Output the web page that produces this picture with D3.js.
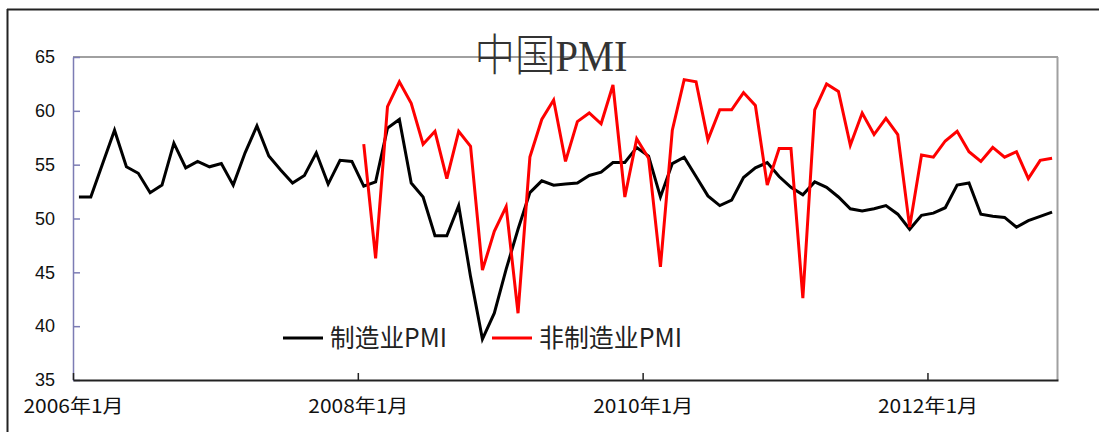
<!DOCTYPE html>
<html>
<head>
<meta charset="utf-8">
<script src="https://cdn.jsdelivr.net/npm/d3@7"></script>
<style>
  html,body{margin:0;padding:0;background:#fff;}
  svg{display:block;}
</style>
</head>
<body>
<div id="chart"></div>
<script>
// months 2006-01 .. 2012-11
const startYear = 2006, nMonths = 83;
const tickIdx = [0, 24, 48, 72];
const tickLabels = ['2006年1月', '2008年1月', '2010年1月', '2012年1月'];
const yTicks = [35, 40, 45, 50, 55, 60, 65];

// 制造业PMI 2006-01 .. 2012-11
const mfg = [
  52.0, 52.0, 55.1, 58.2, 54.8, 54.2, 52.4, 53.1, 57.0, 54.7, 55.3, 54.8,
  55.1, 53.1, 56.1, 58.6, 55.8, 54.5, 53.3, 54.0, 56.1, 53.2, 55.4, 55.3,
  53.0, 53.4, 58.4, 59.2, 53.3, 52.0, 48.4, 48.4, 51.2, 44.6, 38.8, 41.2,
  45.3, 49.0, 52.4, 53.5, 53.1, 53.2, 53.3, 54.0, 54.3, 55.2, 55.2, 56.6,
  55.8, 52.0, 55.1, 55.7, 53.9, 52.1, 51.2, 51.7, 53.8, 54.7, 55.2, 53.9,
  52.9, 52.2, 53.4, 52.9, 52.0, 50.9, 50.7, 50.9, 51.2, 50.4, 49.0, 50.3,
  50.5, 51.0, 53.1, 53.3, 50.4, 50.2, 50.1, 49.2, 49.8, 50.2, 50.6
];
// 非制造业PMI 2008-01 .. 2012-11
const nonMfgStart = 24;
const nonMfg = [
  56.9, 46.3, 60.4, 62.7, 60.7, 56.9, 58.1, 53.7, 58.1, 56.7, 45.2, 48.8,
  51.1, 41.2, 55.7, 59.2, 61.0, 55.3, 59.0, 59.8, 58.8, 62.4, 52.0, 57.4,
  55.6, 45.5, 58.2, 62.9, 62.7, 57.3, 60.1, 60.1, 61.7, 60.5, 53.1, 56.5,
  56.5, 42.6, 60.1, 62.5, 61.8, 56.8, 59.8, 57.8, 59.3, 57.8, 49.2, 55.9,
  55.7, 57.2, 58.1, 56.2, 55.3, 56.6, 55.7, 56.2, 53.7, 55.4, 55.6
];
const series = [
  {name: '制造业PMI', color: '#000000', offset: 0, values: mfg},
  {name: '非制造业PMI', color: '#ff0000', offset: nonMfgStart, values: nonMfg}
];

const W = 1099, H = 432;
const m = {t: 57, r: 41, b: 52, l: 73};
const svg = d3.select('#chart').append('svg').attr('width', W).attr('height', H);

// outer frame (top + left only visible)
svg.append('line').attr('x1', 7).attr('x2', W).attr('y1', 9.5).attr('y2', 9.5).attr('stroke', '#222').attr('stroke-width', 2);
svg.append('line').attr('x1', 7.5).attr('x2', 7.5).attr('y1', 9).attr('y2', H).attr('stroke', '#222').attr('stroke-width', 2);

const x = d3.scaleLinear().domain([0, nMonths]).range([m.l, W - m.r]);
const y = d3.scaleLinear().domain([35, 65]).range([H - m.b, m.t]);
const cx = i => x(i + 0.5);

// plot frame top / right
svg.append('line').attr('x1', m.l).attr('x2', W - m.r).attr('y1', m.t).attr('y2', m.t).attr('stroke', '#a0a0a0').attr('stroke-width', 2);
svg.append('line').attr('x1', W - m.r - 0.5).attr('x2', W - m.r - 0.5).attr('y1', m.t).attr('y2', H - m.b).attr('stroke', '#a0a0a0').attr('stroke-width', 2);

// y axis
const ya = svg.append('g').attr('transform', `translate(${m.l},0)`)
  .call(d3.axisLeft(y).tickValues(yTicks).tickSizeInner(-7).tickSizeOuter(0).tickPadding(18).tickFormat(d3.format('d')));
ya.select('.domain').attr('stroke', '#7c7cb4').attr('stroke-width', 1.5);
ya.selectAll('.tick line').attr('stroke', '#7c7cb4').attr('stroke-width', 1.5);
ya.selectAll('.tick text').attr('font-family', '"Liberation Sans", Arial, sans-serif').attr('font-size', 18).attr('fill', '#111').attr('dy', '0.32em');

// x axis
const xa = svg.append('g').attr('transform', `translate(0,${H - m.b})`)
  .call(d3.axisBottom(x).tickValues(tickIdx).tickSizeInner(-7).tickSizeOuter(0).tickFormat((d, i) => tickLabels[i]));
xa.select('.domain').attr('stroke', '#222').attr('stroke-width', 2);
xa.selectAll('.tick line').attr('stroke', '#222').attr('stroke-width', 1.5);
xa.selectAll('.tick text').attr('font-family', '"Noto Sans CJK SC", sans-serif').attr('font-size', 19).attr('fill', '#111')
  .attr('y', 33).attr('dy', null).attr('textLength', 100).attr('lengthAdjust', 'spacingAndGlyphs');

// lines
const line = d3.line().x(d => cx(d.i)).y(d => y(d.v));
series.forEach(s => {
  const pts = s.values.map((v, k) => ({i: s.offset + k, v}));
  svg.append('path').datum(pts).attr('fill', 'none').attr('stroke', s.color).attr('stroke-width', 3)
    .attr('stroke-linejoin', 'miter').attr('d', line);
});

// title
svg.append('text').attr('x', 551).attr('y', 71).attr('text-anchor', 'middle')
  .attr('font-family', '"Liberation Serif", "Noto Sans CJK SC", serif').attr('font-weight', 300)
  .attr('font-size', 44).attr('fill', '#333').attr('textLength', 153).attr('lengthAdjust', 'spacingAndGlyphs')
  .text('中国PMI');

// legend
const legW = [117, 143];
const leg = svg.append('g').attr('transform', 'translate(283,338)');
let lx = 0;
series.forEach((s, i) => {
  const g = leg.append('g').attr('transform', `translate(${lx},0)`);
  g.append('line').attr('x1', 0).attr('x2', 40).attr('y1', 0).attr('y2', 0).attr('stroke', s.color).attr('stroke-width', 3);
  g.append('text').attr('transform', 'translate(47,9) scale(1,1.15)')
    .attr('font-family', '"Noto Sans CJK SC", sans-serif').attr('font-size', 22).attr('fill', '#222')
    .attr('textLength', legW[i]).attr('lengthAdjust', 'spacingAndGlyphs').text(s.name);
  lx += 209;
});
</script>
</body>
</html>
